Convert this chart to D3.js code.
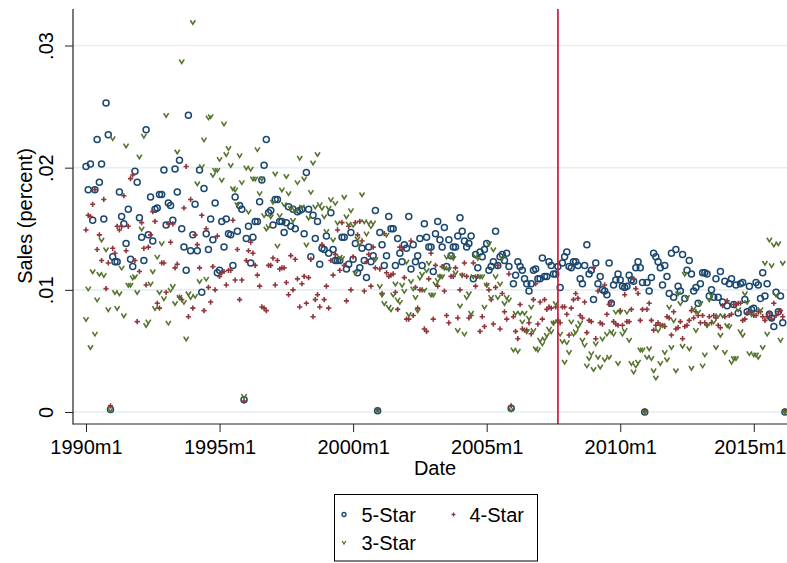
<!DOCTYPE html>
<html><head><meta charset="utf-8">
<script src="https://cdn.jsdelivr.net/npm/d3@7"></script>
<style>body{margin:0;background:#fff}svg{display:block;font-family:"Liberation Sans",Arial,sans-serif}</style>
</head><body><svg id="c" width="787" height="563"></svg>
<script>
// monthly observations starting 1990m1 (index 0)
const star5=[
.0201,.0182,.0203,.0157,.0182,.0223,.0188,.0203,.0158,.0253,
.0227,.0002,.0127,.0123,.0123,.0180,.0160,.0154,.0138,.0166,
.0125,.0119,.0197,.0188,.0159,.0143,.0124,.0231,.0145,.0176,
.0140,.0166,.0167,.0178,.0178,.0198,.0153,.0171,.0169,.0157,
.0199,.0180,.0206,.0150,.0135,.0116,.0243,.0132,.0145,.0170,
.0132,.0198,.0098,.0183,.0146,.0133,.0158,.0141,.0171,.0114,
.0116,.0156,.0135,.0158,.0146,.0145,.0120,.0176,.0148,.0169,
.0166,.0010,.0142,.0152,.0122,.0143,.0156,.0156,.0172,.0190,
.0202,.0223,.0163,.0165,.0153,.0174,.0174,.0156,.0156,.0147,
.0155,.0168,.0152,.0166,.0150,.0164,.0165,.0166,.0146,.0196,
.0166,.0127,.0161,.0142,.0156,.0121,.0134,.0133,.0144,.0130,
.0163,.0133,.0124,.0124,.0124,.0143,.0143,.0117,.0121,.0147,
.0125,.0138,.0114,.0118,.0134,.0124,.0110,.0135,.0123,.0128,
.0165,.0001,.0147,.0137,.0120,.0128,.0160,.0150,.0150,.0120,
.0142,.0130,.0123,.0137,.0134,.0160,.0117,.0137,.0123,.0128,
.0142,.0120,.0154,.0143,.0135,.0135,.0115,.0146,.0156,.0141,
.0135,.0151,.0119,.0141,.0128,.0135,.0135,.0144,.0159,.0148,
.0140,.0135,.0138,.0144,.0109,.0129,.0118,.0131,.0127,.0133,
.0138,.0116,.0119,.0123,.0148,.0120,.0127,.0129,.0124,.0130,
.0119,.0003,.0105,.0112,.0123,.0119,.0116,.0109,.0105,.0099,
.0105,.0116,.0117,.0109,.0109,.0126,.0111,.0111,.0123,.0120,
.0113,.0113,.0119,.0102,.0122,.0127,.0131,.0119,.0118,.0123,
.0123,.0120,.0109,.0105,.0120,.0137,.0113,.0116,.0092,.0122,
.0105,.0111,.0100,.0099,.0096,.0122,.0089,.0104,.0108,.0113,
.0108,.0103,.0102,.0103,.0112,.0108,.0107,.0118,.0123,.0118,
.0106,.0000,.0106,.0099,.0110,.0130,.0127,.0123,.0118,.0104,
.0120,.0111,.0097,.0130,.0094,.0133,.0103,.0099,.0129,.0093,
.0116,.0124,.0113,.0099,.0102,.0089,.0105,.0114,.0114,.0113,
.0095,.0100,.0094,.0109,.0094,.0115,.0090,.0107,.0087,.0105,
.0109,.0088,.0104,.0081,.0105,.0106,.0092,.0082,.0103,.0084,
.0085,.0106,.0104,.0093,.0114,.0095,.0105,.0080,.0077,.0070,
.0098,.0082,.0095,.0073,.0000];
const star4=[
.0149,.0161,.0160,.0170,.0182,.0133,.0145,.0124,.0174,.0101,
.0122,.0005,.0134,.0130,.0152,.0149,.0152,.0177,.0132,.0152,
.0191,.0194,.0124,.0074,.0115,.0155,.0134,.0104,.0135,.0145,
.0164,.0156,.0089,.0085,.0122,.0122,.0098,.0154,.0139,.0154,
.0118,.0121,.0094,.0092,.0167,.0201,.0078,.0174,.0085,.0145,
.0137,.0118,.0161,.0083,.0150,.0102,.0090,.0119,.0100,.0144,
.0111,.0114,.0115,.0104,.0116,.0116,.0157,.0108,.0133,.0092,
.0108,.0009,.0124,.0132,.0139,.0130,.0120,.0112,.0103,.0086,
.0085,.0083,.0120,.0120,.0126,.0104,.0124,.0117,.0118,.0118,
.0106,.0096,.0128,.0100,.0125,.0109,.0086,.0105,.0111,.0089,
.0110,.0125,.0078,.0092,.0096,.0086,.0137,.0092,.0103,.0085,
.0124,.0112,.0129,.0149,.0116,.0155,.0120,.0091,.0152,.0100,
.0127,.0155,.0145,.0156,.0140,.0099,.0123,.0129,.0103,.0135,
.0118,.0002,.0117,.0097,.0146,.0114,.0111,.0112,.0113,.0098,
.0084,.0135,.0133,.0110,.0076,.0076,.0140,.0079,.0102,.0085,
.0100,.0100,.0068,.0066,.0109,.0130,.0076,.0120,.0103,.0111,
.0119,.0099,.0079,.0073,.0111,.0111,.0118,.0077,.0100,.0112,
.0122,.0111,.0077,.0079,.0122,.0103,.0111,.0066,.0078,.0070,
.0104,.0100,.0092,.0072,.0102,.0120,.0068,.0097,.0082,.0076,
.0113,.0005,.0078,.0066,.0060,.0088,.0068,.0067,.0067,.0073,
.0064,.0092,.0105,.0072,.0090,.0076,.0092,.0084,.0086,.0085,
.0073,.0086,.0075,.0073,.0086,.0086,.0080,.0063,.0085,.0092,
.0097,.0093,.0079,.0077,.0090,.0065,.0075,.0074,.0118,.0060,
.0099,.0073,.0072,.0104,.0080,.0088,.0090,.0074,.0072,.0071,
.0083,.0071,.0096,.0074,.0074,.0084,.0109,.0101,.0097,.0075,
.0084,.0001,.0084,.0089,.0075,.0067,.0071,.0073,.0071,.0071,
.0070,.0078,.0077,.0063,.0082,.0068,.0069,.0074,.0060,.0070,
.0071,.0075,.0083,.0077,.0082,.0079,.0073,.0079,.0073,.0071,
.0078,.0073,.0079,.0077,.0071,.0069,.0087,.0078,.0091,.0079,
.0080,.0088,.0088,.0089,.0089,.0075,.0076,.0081,.0082,.0082,
.0079,.0079,.0082,.0082,.0078,.0075,.0078,.0081,.0076,.0089,
.0079,.0082,.0083,.0078,.0001];
const star3=[
.0076,.0101,.0053,.0115,.0064,.0092,.0113,.0141,.0112,.0133,
.0084,.0002,.0224,.0098,.0085,.0097,.0118,.0079,.0218,.0104,
.0104,.0110,.0111,.0098,.0209,.0150,.0226,.0071,.0074,.0105,
.0115,.0085,.0127,.0098,.0138,.0093,.0243,.0073,.0100,.0103,
.0089,.0213,.0094,.0287,.0090,.0060,.0097,.0094,.0319,.0095,
.0187,.0107,.0201,.0223,.0109,.0241,.0242,.0194,.0198,.0198,
.0207,.0190,.0236,.0211,.0216,.0202,.0183,.0182,.0170,.0210,
.0188,.0013,.0200,.0164,.0199,.0191,.0191,.0215,.0179,.0191,
.0161,.0150,.0152,.0160,.0172,.0195,.0136,.0161,.0182,.0170,
.0193,.0179,.0167,.0157,.0165,.0188,.0208,.0168,.0191,.0137,
.0159,.0180,.0204,.0168,.0211,.0170,.0167,.0160,.0148,.0167,
.0174,.0141,.0171,.0155,.0127,.0126,.0176,.0160,.0154,.0165,
.0153,.0114,.0142,.0138,.0178,.0156,.0146,.0155,.0152,.0155,
.0125,.0001,.0103,.0096,.0089,.0145,.0086,.0084,.0096,.0105,
.0092,.0090,.0104,.0099,.0123,.0080,.0107,.0101,.0094,.0083,
.0110,.0113,.0100,.0116,.0122,.0096,.0096,.0105,.0108,.0111,
.0111,.0118,.0127,.0117,.0128,.0126,.0114,.0067,.0087,.0112,
.0064,.0094,.0097,.0081,.0111,.0128,.0126,.0111,.0111,.0086,
.0104,.0138,.0094,.0133,.0111,.0094,.0105,.0126,.0089,.0094,
.0092,.0002,.0051,.0081,.0050,.0081,.0074,.0081,.0066,.0077,
.0086,.0067,.0052,.0051,.0059,.0056,.0060,.0063,.0068,.0066,
.0073,.0089,.0074,.0064,.0058,.0041,.0057,.0049,.0074,.0064,
.0066,.0070,.0073,.0059,.0055,.0038,.0044,.0048,.0035,.0056,
.0045,.0037,.0060,.0043,.0064,.0045,.0066,.0064,.0082,.0040,
.0082,.0064,.0067,.0082,.0059,.0040,.0033,.0038,.0041,.0051,
.0051,.0000,.0045,.0052,.0044,.0034,.0028,.0067,.0040,.0071,
.0049,.0043,.0086,.0053,.0075,.0034,.0097,.0089,.0054,.0113,
.0094,.0052,.0036,.0085,.0067,.0082,.0089,.0038,.0047,.0071,
.0092,.0096,.0074,.0053,.0079,.0063,.0079,.0049,.0071,.0070,
.0041,.0044,.0044,.0084,.0066,.0063,.0097,.0090,.0048,.0080,
.0047,.0047,.0045,.0084,.0053,.0122,.0064,.0141,.0120,.0137,
.0096,.0138,.0059,.0122,.0000];
const months=d3.range(star5.length);           // months since 1990m1
const xTicks=[0,60,120,180,240,300];
const xTickLabels=["1990m1","1995m1","2000m1","2005m1","2010m1","2015m1"];
const yTicks=[0,.01,.02,.03];
const yTickLabels=["0",".01",".02",".03"];
const eventMonth=212;                          // 2007m9
const seriesNames=["5-Star","4-Star","3-Star"];
const colors=["#1a476f","#90353b","#55752f"];

const svg=d3.select("#c");
const x=d3.scaleLinear().domain([0,300]).range([86,753.8]);
const y=d3.scaleLinear().domain([0,.03]).range([412,45.5]);
const L=73,R=800,T=9,B=424;
const FS=20;

// gridlines
svg.append("g").selectAll("line").data(yTicks).join("line")
  .attr("x1",L).attr("x2",R).attr("y1",d=>y(d)).attr("y2",d=>y(d))
  .attr("stroke","#e6eef1").attr("stroke-width",1.6);

// markers
svg.append("g").selectAll("circle").data(months).join("circle")
  .attr("cx",d=>x(d)).attr("cy",d=>y(star5[d])).attr("r",3)
  .attr("fill","none").attr("stroke",colors[0]).attr("stroke-width",1.5);
const plus=(s)=>`M${-s},0H${s}M0,${-s}V${s}`;
svg.append("g").selectAll("path").data(months).join("path")
  .attr("transform",d=>`translate(${x(d)},${y(star4[d])})`)
  .attr("d",plus(2.6)).attr("fill","none").attr("stroke",colors[1]).attr("stroke-width",1.6);
const vee=(w,h)=>`M${-w},${-h}L0,${h}L${w},${-h}`;
svg.append("g").selectAll("path").data(months).join("path")
  .attr("transform",d=>`translate(${x(d)},${y(star3[d])})`)
  .attr("d",vee(2.5,2)).attr("fill","none").attr("stroke",colors[2]).attr("stroke-width",1.6)
  .attr("stroke-linejoin","miter");

// event line
svg.append("line").attr("x1",x(eventMonth)).attr("x2",x(eventMonth)).attr("y1",T).attr("y2",B)
  .attr("stroke","#d3173c").attr("stroke-width",1.7);

// axes
const ax=svg.append("g").attr("transform",`translate(0,${B})`)
  .call(d3.axisBottom(x).tickValues(xTicks).tickFormat((d,i)=>xTickLabels[i]).tickSize(8).tickSizeOuter(0));
ax.select(".domain").remove();
ax.selectAll("line").attr("stroke","#222");
ax.selectAll("text").attr("y",29.5).attr("dy",0).attr("fill","#000")
  .style("font-size",FS+"px").style("font-family",'"Liberation Sans",Arial,sans-serif');
// keep the last label inside the picture
ax.selectAll("text").filter((d,i)=>i===xTicks.length-1).attr("text-anchor","end").attr("x",786-x(xTicks[xTicks.length-1]));

const ay=svg.append("g").attr("transform",`translate(${L},0)`)
  .call(d3.axisLeft(y).tickValues(yTicks).tickFormat((d,i)=>yTickLabels[i]).tickSize(8).tickSizeOuter(0));
ay.select(".domain").remove();
ay.selectAll("line").attr("stroke","#222");
ay.selectAll("text").attr("x",0).attr("dy",0).attr("text-anchor","middle")
  .attr("transform","translate(-20,0) rotate(-90)").attr("fill","#000")
  .style("font-size",FS+"px").style("font-family",'"Liberation Sans",Arial,sans-serif');

svg.append("line").attr("x1",L).attr("x2",L).attr("y1",T).attr("y2",B+0.5).attr("stroke","#222").attr("stroke-width",1.2);
svg.append("line").attr("x1",L).attr("x2",R).attr("y1",B).attr("y2",B).attr("stroke","#222").attr("stroke-width",1.2);

// titles
svg.append("text").attr("x",435).attr("y",474.5).attr("text-anchor","middle")
  .style("font-size",FS+"px").text("Date");
svg.append("text").attr("transform","translate(32,216) rotate(-90)").attr("text-anchor","middle")
  .style("font-size",FS+"px").text("Sales (percent)");

// legend
const lg=svg.append("g");
lg.append("rect").attr("x",334.5).attr("y",494.5).attr("width",203).attr("height",66.5)
  .attr("fill","#fff").attr("stroke","#000").attr("stroke-width",1);
const legItems=[{i:0,mx:344,tx:361.5,ty:522},{i:1,mx:453.5,tx:469.5,ty:522},{i:2,mx:344,tx:361.5,ty:550}];
legItems.forEach(o=>{
  const cy=o.ty-7.5;
  if(o.i===0) lg.append("circle").attr("cx",o.mx).attr("cy",cy).attr("r",2).attr("fill","none").attr("stroke",colors[0]).attr("stroke-width",1.3);
  if(o.i===1) lg.append("path").attr("transform",`translate(${o.mx},${cy})`).attr("d",plus(1.9)).attr("fill","none").attr("stroke",colors[1]).attr("stroke-width",1.3);
  if(o.i===2) lg.append("path").attr("transform",`translate(${o.mx},${cy})`).attr("d",vee(1.9,1.5)).attr("fill","none").attr("stroke",colors[2]).attr("stroke-width",1.3);
  lg.append("text").attr("x",o.tx).attr("y",o.ty).style("font-size",FS+"px").text(seriesNames[o.i]);
});
</script></body></html>
